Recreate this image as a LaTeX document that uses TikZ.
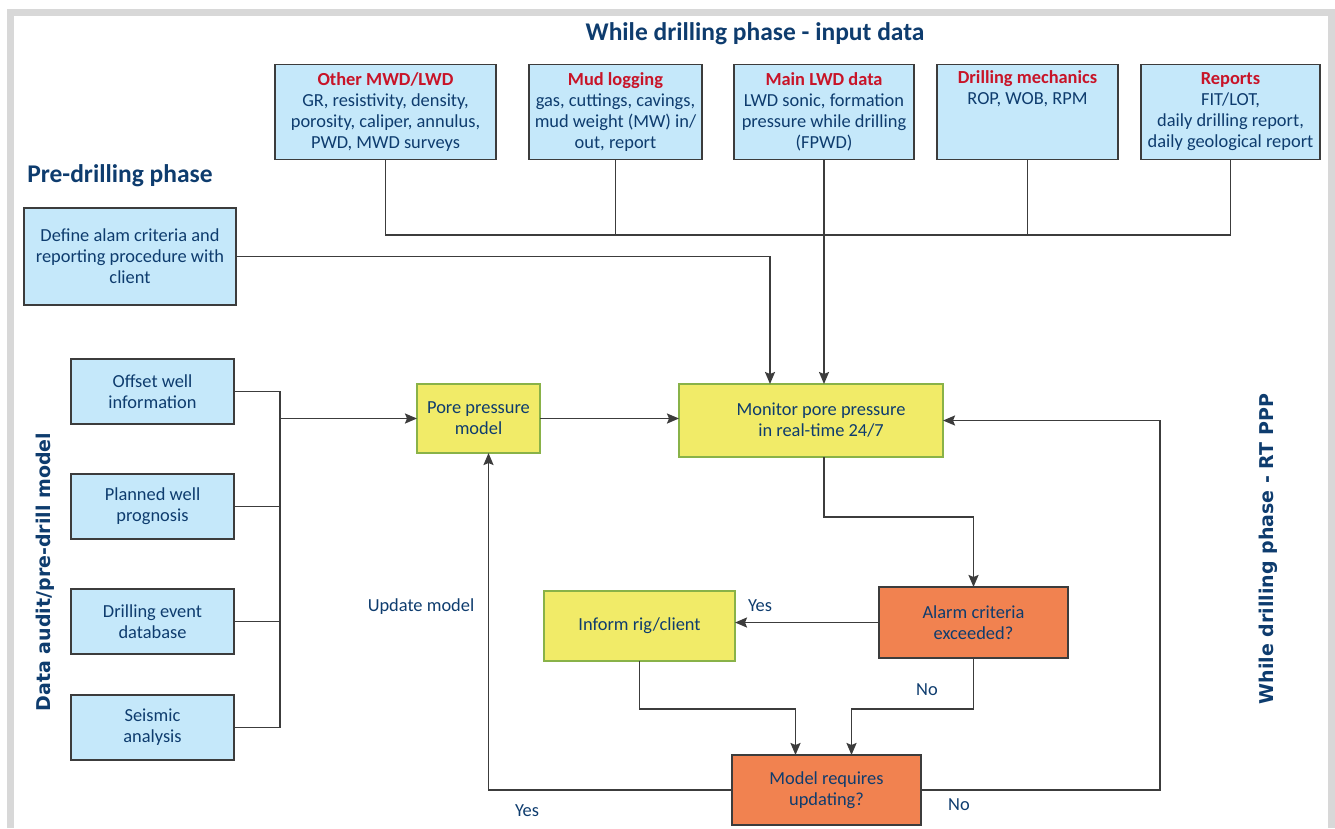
\documentclass[tikz,border=0pt]{standalone}
\usepackage{fontspec}
\setmainfont{Carlito}
\newfontfamily\sidefont{DejaVu Sans}
\usepackage{tikz}
\usetikzlibrary{positioning}
\usetikzlibrary{arrows.meta}

\definecolor{boxblue}{RGB}{197,232,250}
\definecolor{boxyellow}{RGB}{241,235,104}
\definecolor{boxorange}{RGB}{241,130,80}
\definecolor{edgegreen}{RGB}{137,178,72}
\definecolor{edgegrey}{RGB}{60,60,60}
\definecolor{textnavy}{RGB}{14,60,110}
\definecolor{textred}{RGB}{200,20,40}
\definecolor{framegrey}{RGB}{216,216,216}

\begin{document}
\begin{tikzpicture}[x=1pt,y=-1pt,>={Stealth[length=12pt,width=10pt,inset=2pt]},line width=1.9pt,
	every node/.style={text=textnavy,font=\fontsize{18.4}{21}\selectfont,outer sep=0pt},
	input node/.style={rectangle,draw=edgegrey,fill=boxblue,align=center,minimum height=95pt,inner sep=2pt},
	audit node/.style={rectangle,draw=edgegrey,fill=boxblue,align=center,minimum width=163pt,minimum height=65pt},
	model node/.style={rectangle,draw=edgegreen,fill=boxyellow,align=center},
	check node/.style={rectangle,draw=edgegrey,fill=boxorange,align=center,minimum width=189pt,minimum height=71pt},
	phase/.style={font=\fontsize{25.5}{30}\selectfont\bfseries},
	side/.style={font=\sidefont\fontsize{19}{22}\selectfont\bfseries,rotate=90},
	link/.style={draw=edgegrey}]

	\useasboundingbox (0,0) rectangle (1335,828);
	\draw[framegrey,line width=7pt] (10.5,828) -- (10.5,12.5) -- (1331,12.5) -- (1331,828);

	% input data
	\node[phase] (inputtitle) at (755,34) {While drilling phase - input data};
	\node[input node,minimum width=221pt] (other) at (385.5,112)
		{\textcolor{textred}{\bfseries Other MWD/LWD}\\GR, resistivity, density,\\porosity, caliper, annulus,\\PWD, MWD surveys};
	\node[input node,minimum width=173pt] (mud) [right=33pt of other]
		{\textcolor{textred}{\bfseries Mud logging}\\gas, cuttings, cavings,\\mud weight (MW) in/\\out, report};
	\node[input node,minimum width=180pt] (mainlwd) [right=32pt of mud]
		{\textcolor{textred}{\bfseries Main LWD data}\\LWD sonic, formation\\pressure while drilling\\(FPWD)};
	\node[input node,minimum width=181pt] (mech) [right=23pt of mainlwd]
		{\textcolor{textred}{\bfseries Drilling mechanics}\\ROP, WOB, RPM\\\strut\\\strut};
	\node[input node,minimum width=179pt] (reports) [right=23pt of mech]
		{\textcolor{textred}{\bfseries Reports}\\FIT/LOT,\\daily drilling report,\\daily geological report};

	% pre-drilling
	\node[phase,anchor=west] (pretitle) at (24,176) {Pre-drilling phase};
	\node[input node,minimum width=212pt,minimum height=97pt] (define) at (130,256.5)
		{Define alam criteria and\\reporting procedure with\\client};

	\node[audit node] (offset) at (152.5,391.5) {Offset well\\information};
	\node[audit node] (planned) [below=50pt of offset] {Planned well\\prognosis};
	\node[audit node] (event) [below=50pt of planned] {Drilling event\\database};
	\node[audit node] (seismic) [below=41pt of event] {Seismic\\analysis};
	\node[side] (auditlabel) at (45,572) {Data audit/pre-drill model};

	% real-time loop
	\node[model node,minimum width=123pt,minimum height=69pt] (pore) at (478.5,418.5) {Pore pressure\\model};
	\node[model node,minimum width=264pt,minimum height=73pt] (monitor) at (811,420.5) {\hspace*{20pt}Monitor pore pressure\\\hspace*{20pt}in real-time 24/7};
	\node[check node] (alarm) at (973.5,622.5) {Alarm criteria\\exceeded?};
	\node[model node,minimum width=191pt,minimum height=70pt] (inform) at (639.5,626) {Inform rig/client};
	\node[check node,minimum height=70pt] (update) at (826.5,790) {Model requires\\updating?};
	\node[side] (rtlabel) at (1268,549) {While drilling phase - RT PPP};

	\node (yesinform) at (760,606) {Yes};
	\node (noalarm) at (927,690) {No};
	\node (yesupdate) at (527,811) {Yes};
	\node (noupdate) at (959,805) {No};
	\node (updatelabel) at (421,607) {Update model};

	\coordinate (inputbus) at (0,235);
	\coordinate (auditbus) at (280,0);

	\draw[link] (other.south) -- (other.south |- inputbus) -| (reports.south);
	\draw[link] (mud.south) -- (mud.south |- inputbus);
	\draw[link] (mech.south) -- (mech.south |- inputbus);
	\draw[link,->] (mainlwd.south) -- (mainlwd.south |- monitor.north);
	\draw[link,->] (define.east) -| ([xshift=-41pt]monitor.north);

	\draw[link] (offset.east) -| (auditbus |- seismic.east) -- (seismic.east);
	\draw[link] (planned.east) -- (planned.east -| auditbus);
	\draw[link] (event.east) -- (event.east -| auditbus);
	\draw[link,->] (auditbus |- pore.west) -- (pore.west);
	\draw[link,->] (pore.east) -- (monitor.west |- pore.east);

	\draw[link,->] (mainlwd.south |- monitor.south) -- ++(0,60) -| (alarm.north);
	\draw[link,->] (alarm.west) -- (alarm.west -| inform.east);
	\draw[link,->] (inform.south) -- ++(0,48) -| ([xshift=-31pt]update.north);
	\draw[link,->] (alarm.south) -- ++(0,51) -| ([xshift=25pt]update.north);
	\draw[link,->] (update.west) -| ([xshift=10pt]pore.south);
	\draw[link,->] (update.east) -- ++(239,0) |- (monitor.east);
\end{tikzpicture}
\end{document}
